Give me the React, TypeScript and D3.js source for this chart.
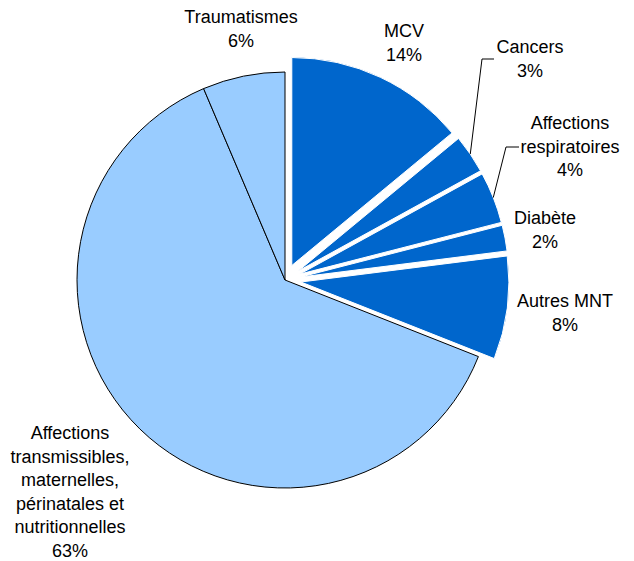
import React from "react";
import * as d3 from "d3";

// chart data
const categories = [
    ["MCV"],
    ["Cancers"],
    ["Affections", "respiratoires"],
    ["Diabète"],
    ["Autres MNT"],
    ["Affections", "transmissibles,", "maternelles,", "périnatales et", "nutritionnelles"],
    ["Traumatismes"],
];
// shares (labels show them rounded)
const values = [14, 3, 4, 2, 8, 62.6, 6.4];
const exploded = [true, true, true, true, true, false, false];

// layout
const width = 634;
const height = 561;
const cx = 285;
const cy = 280;
const radius = 208;
const explodeDist = 16;
const lineHeight = 23.5;
const labelPos: [number, number][] = [
    [404, 37],
    [530, 53],
    [570, 129],
    [545, 224],
    [565, 307],
    [70, 439],
    [241, 23],
];
// knee + end points of leader lines (only for some slices)
const leaders: ([number, number][] | null)[] = [
    null,
    [[482, 59], [494, 59]],
    [[506, 147], [519, 147]],
    null,
    null,
    null,
    null,
];

const DARK = "#0066CC";
const LIGHT = "#99CCFF";

export default function App() {
    const pie = d3
        .pie<number>()
        .sort(null)
        .value((d) => d);
    const arcs = pie(values);
    const arc = d3
        .arc<d3.PieArcDatum<number>>()
        .innerRadius(0)
        .outerRadius(radius);

    const offsetOf = (a: d3.PieArcDatum<number>, i: number) => {
        if (!exploded[i]) return [0, 0];
        const mid = (a.startAngle + a.endAngle) / 2;
        return [Math.sin(mid) * explodeDist, -Math.cos(mid) * explodeDist];
    };

    return (
        <svg
            width={width}
            height={height}
            style={{ position: "absolute", left: 0, top: 0, background: "#fff" }}
            fontFamily="'Liberation Sans', Arial, sans-serif"
            fontSize={18}
        >
            <g transform={`translate(${cx},${cy})`}>
                {arcs.map((a, i) => {
                    const [dx, dy] = offsetOf(a, i);
                    return (
                        <path
                            key={i}
                            d={arc(a) || ""}
                            transform={`translate(${dx},${dy})`}
                            fill={exploded[i] ? DARK : LIGHT}
                            stroke={exploded[i] ? "#fff" : "#000"}
                            strokeWidth={1}
                            strokeLinejoin="round"
                        />
                    );
                })}
                {arcs.map((a, i) => {
                    const pts = leaders[i];
                    if (!pts) return null;
                    const mid = (a.startAngle + a.endAngle) / 2;
                    const r = radius + explodeDist;
                    const start: [number, number] = [Math.sin(mid) * r, -Math.cos(mid) * r];
                    const line = d3.line()([
                        start,
                        ...pts.map((p) => [p[0] - cx, p[1] - cy] as [number, number]),
                    ]);
                    return (
                        <path key={"l" + i} d={line || ""} fill="none" stroke="#000" strokeWidth={1} />
                    );
                })}
            </g>
            {categories.map((lines, i) => {
                const [x, y] = labelPos[i];
                const all = [...lines, `${Math.round(values[i])}%`];
                return (
                    <text key={"t" + i} textAnchor="middle" fill="#000">
                        {all.map((t, j) => (
                            <tspan key={j} x={x} y={y + j * lineHeight}>
                                {t}
                            </tspan>
                        ))}
                    </text>
                );
            })}
        </svg>
    );
}
